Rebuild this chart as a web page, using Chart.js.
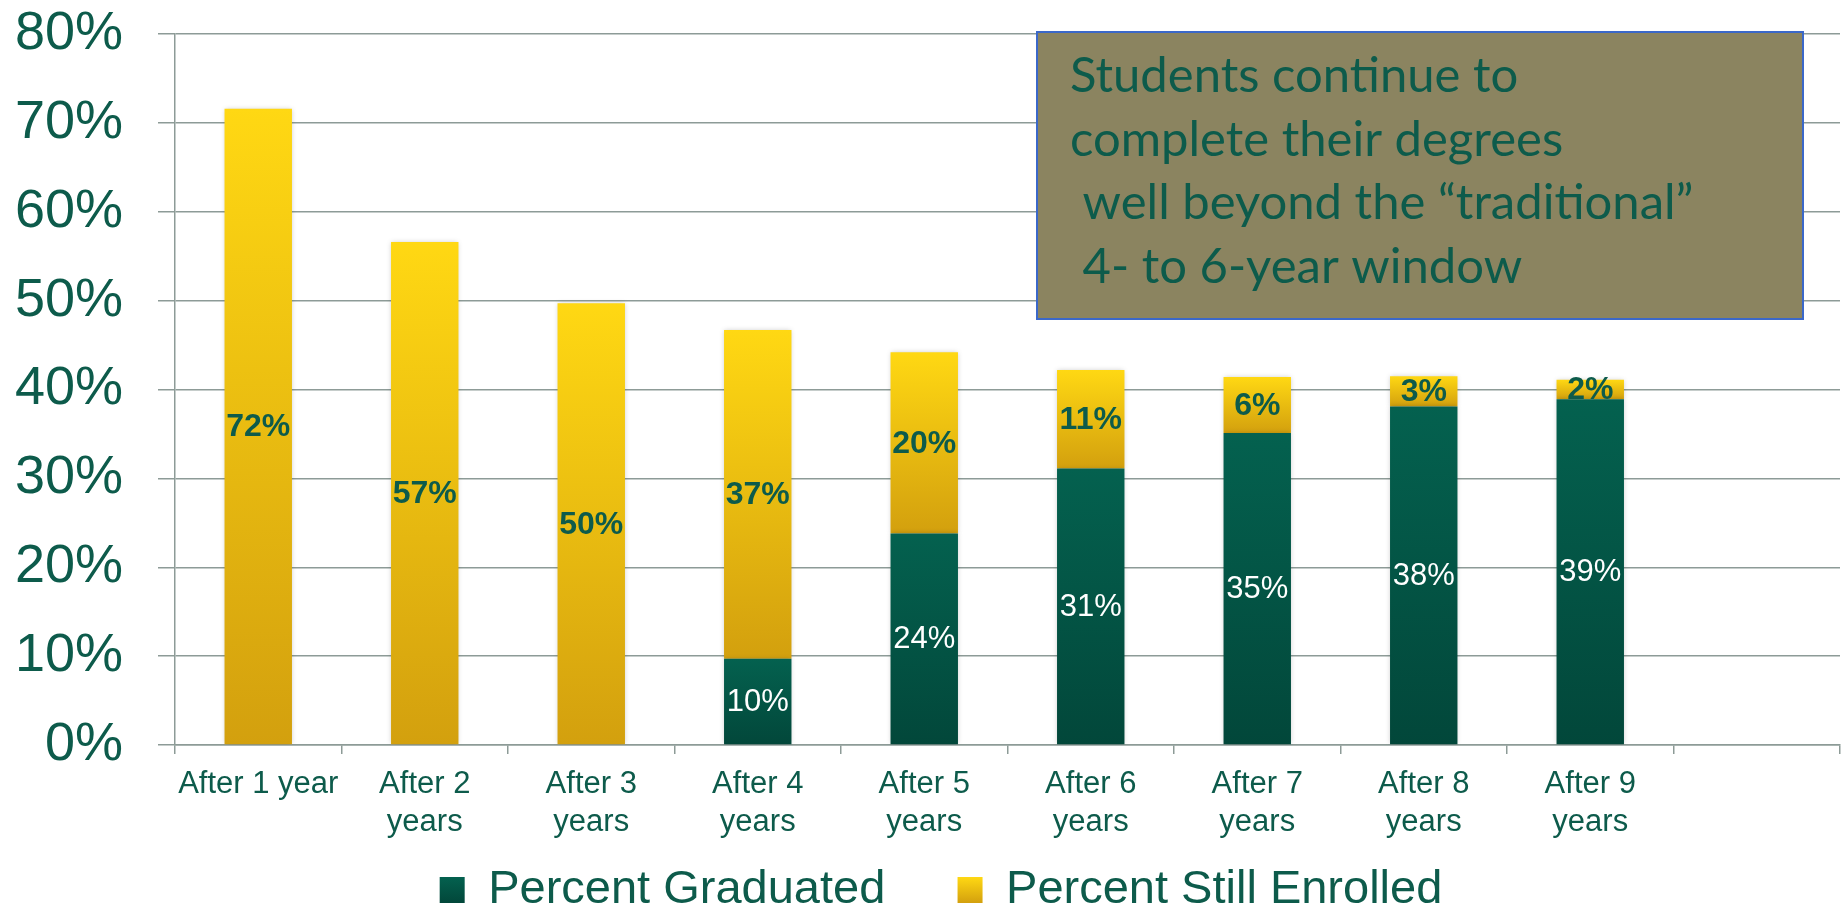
<!DOCTYPE html>
<html>
<head>
<meta charset="utf-8">
<script src="https://cdn.jsdelivr.net/npm/chart.js@4.4.1/dist/chart.umd.min.js"></script>
<style>
  html, body { margin: 0; padding: 0; background: #fff; }
  #wrap { width: 1843px; height: 909px; }
</style>
</head>
<body>
<div id="wrap"><canvas id="gradChart"></canvas></div>
<script>
// Data
const categories = ['After 1 year', ['After 2', 'years'], ['After 3', 'years'], ['After 4', 'years'],
    ['After 5', 'years'], ['After 6', 'years'], ['After 7', 'years'], ['After 8', 'years'], ['After 9', 'years'], ''];
const graduated = [0, 0, 0, 9.7, 23.8, 31.1, 35.1, 38.1, 38.9, null];
const stillEnrolled = [71.6, 56.6, 49.7, 37.0, 20.4, 11.1, 6.3, 3.4, 2.2, null];
const yTicks = [0, 10, 20, 30, 40, 50, 60, 70, 80];
const seriesNames = ['Percent Graduated', 'Percent Still Enrolled'];
const noteLines = ['Students continue to', 'complete their degrees', ' well beyond the \u201Ctraditional\u201D', ' 4- to 6-year window'];

const textGreen = '#0d5b4b';
const gridGray = '#8d9b97';
const greenStops = ['#04614f', '#02473a'];
const yellowStops = ['#ffd813', '#d3a00e'];

Chart.defaults.font.family = "'Liberation Sans', Arial, sans-serif";

// vertical gradient for each bar segment
function segGradient(context, stops, solid) {
    const chart = context.chart;
    if (context.type !== 'data' || !chart.chartArea) return solid;
    const i = context.dataIndex;
    const y = chart.scales.y;
    let from = 0, to = graduated[i] || 0;
    if (context.datasetIndex === 1) {
        from = graduated[i] || 0;
        to = from + (stillEnrolled[i] || 0);
    }
    const y0 = y.getPixelForValue(from);
    const y1 = y.getPixelForValue(to);
    if (!isFinite(y0) || !isFinite(y1) || y0 === y1) return solid;
    const g = chart.ctx.createLinearGradient(0, y1, 0, y0);
    g.addColorStop(0, stops[0]);
    g.addColorStop(1, stops[1]);
    return g;
}

// shadows under bars + value labels
const barLabels = {
    id: 'barLabels',
    afterLayout(chart) {
        // nudge the legend row to the right like the original
        chart.legend.left = 42;
    },
    beforeDatasetsDraw(chart) {
        const ctx = chart.ctx;
        ctx.save();
        ctx.shadowColor = 'rgba(0,0,0,0.22)';
        ctx.shadowBlur = 5;
    },
    afterDatasetsDraw(chart) {
        const ctx = chart.ctx;
        ctx.restore();
        ctx.save();
        ctx.textAlign = 'center';
        ctx.textBaseline = 'middle';
        chart.data.datasets.forEach((ds, di) => {
            const meta = chart.getDatasetMeta(di);
            meta.data.forEach((bar, i) => {
                const v = ds.data[i];
                if (!v) return;
                const mid = (bar.y + bar.base) / 2;
                if (di === 0) {
                    ctx.font = "31px 'Liberation Sans', Arial, sans-serif";
                    ctx.fillStyle = '#ffffff';
                } else {
                    ctx.font = "bold 32px 'Liberation Sans', Arial, sans-serif";
                    ctx.fillStyle = textGreen;
                }
                ctx.fillText(Math.round(v) + '%', bar.x, mid + 1);
            });
        });
        ctx.restore();
    }
};

// text box in the top right
const noteBox = {
    id: 'noteBox',
    afterDraw(chart) {
        const ctx = chart.ctx;
        ctx.save();
        ctx.fillStyle = '#8b8460';
        ctx.fillRect(1037, 32, 766, 287);
        ctx.strokeStyle = '#3b68c9';
        ctx.lineWidth = 2;
        ctx.strokeRect(1037, 32, 766, 287);
        ctx.fillStyle = textGreen;
        ctx.font = "49px Lato, sans-serif";
        ctx.textBaseline = 'alphabetic';
        noteLines.forEach((t, k) => {
            ctx.fillText(t, 1070, 92 + k * 63.5);
        });
        ctx.restore();
    }
};

const ctx = document.getElementById('gradChart').getContext('2d');

new Chart(ctx, {
    type: 'bar',
    data: {
        labels: categories,
        datasets: [
            {
                label: seriesNames[0],
                data: graduated,
                backgroundColor: c => segGradient(c, greenStops, '#035547'),
                barPercentage: 0.405,
                categoryPercentage: 1.0
            },
            {
                label: seriesNames[1],
                data: stillEnrolled,
                backgroundColor: c => segGradient(c, yellowStops, '#efc011'),
                barPercentage: 0.405,
                categoryPercentage: 1.0
            }
        ]
    },
    options: {
        responsive: true,
        maintainAspectRatio: false,
        animation: false,
        layout: { padding: { left: 0, right: 3, top: 0, bottom: 0 } },
        plugins: {
            tooltip: { enabled: false },
            legend: {
                position: 'bottom',
                maxHeight: 62.5,
                labels: {
                    color: textGreen,
                    font: { size: 47 },
                    boxWidth: 25,
                    boxHeight: 26,
                    padding: 20,
                    generateLabels(chart) {
                        const stops = [greenStops, yellowStops];
                        return chart.data.datasets.map((ds, i) => {
                            const g = chart.ctx.createLinearGradient(0, 877, 0, 903);
                            g.addColorStop(0, stops[i][0]);
                            g.addColorStop(1, stops[i][1]);
                            return {
                                text: ds.label + (i === 0 ? '    ' : ''),
                                fillStyle: g,
                                strokeStyle: 'rgba(0,0,0,0)',
                                lineWidth: 0,
                                fontColor: textGreen,
                                datasetIndex: i,
                                hidden: false
                            };
                        });
                    }
                }
            }
        },
        scales: {
            x: {
                stacked: true,
                afterFit(axis) { axis.height = 101.5; },
                grid: { display: true, drawOnChartArea: false, drawTicks: true, tickLength: 9, color: gridGray, lineWidth: 1.5 },
                border: { display: true, color: gridGray, width: 1.5 },
                ticks: { color: textGreen, font: { size: 31, lineHeight: 1.21 }, maxRotation: 0, autoSkip: false, padding: 12 }
            },
            y: {
                stacked: true,
                min: yTicks[0],
                max: yTicks[yTicks.length - 1],
                afterBuildTicks(axis) {
                    axis.ticks = yTicks.map(v => ({ value: v }));
                },
                afterFit(axis) {
                    axis.width = 175;
                    axis.paddingTop = 34;
                },
                grid: { color: gridGray, lineWidth: 1.5, tickLength: 17 },
                border: { display: true, color: gridGray, width: 1.5 },
                ticks: { color: textGreen, font: { size: 54 }, padding: 35, callback: v => v + '%' }
            }
        }
    },
    plugins: [barLabels, noteBox]
});
</script>
</body>
</html>
